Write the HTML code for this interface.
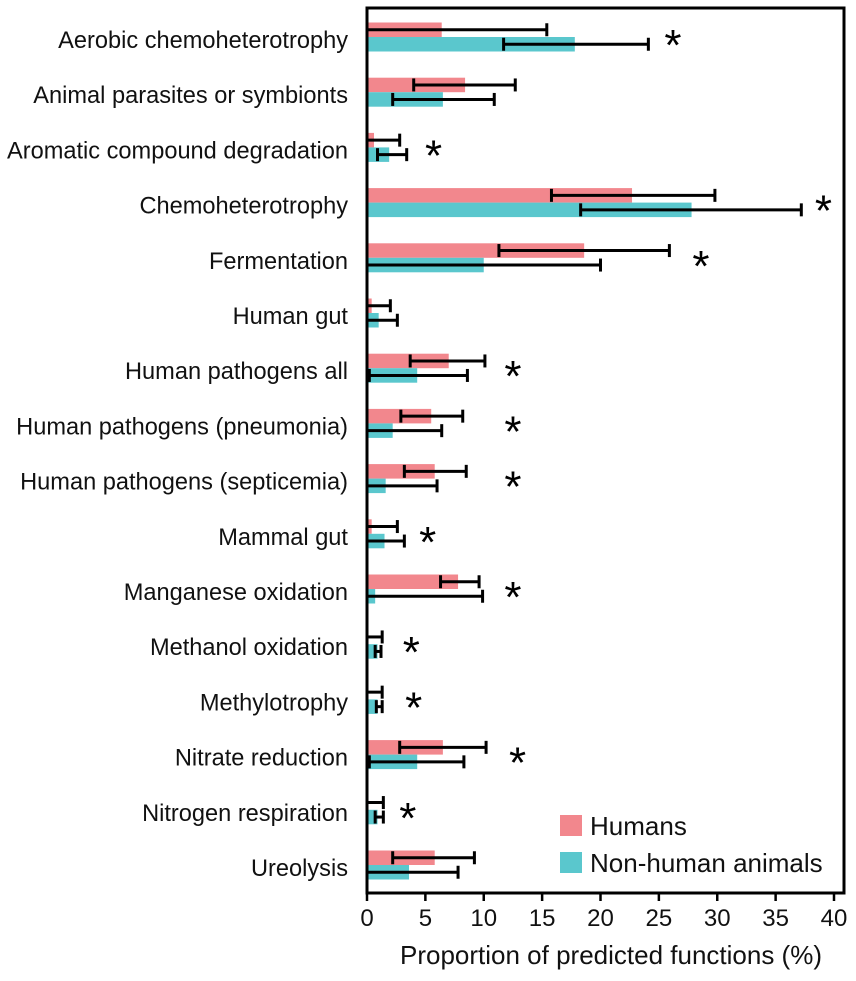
<!DOCTYPE html>
<html><head><meta charset="utf-8"><style>
html,body{margin:0;padding:0;background:#fff;}
svg{display:block;font-family:"Liberation Sans",Arial,sans-serif;}
</style></head><body>
<svg id="chart" width="856" height="981" viewBox="0 0 856 981" xmlns="http://www.w3.org/2000/svg"></svg>
<script>
const categories=["Aerobic chemoheterotrophy","Animal parasites or symbionts","Aromatic compound degradation","Chemoheterotrophy","Fermentation","Human gut","Human pathogens all","Human pathogens (pneumonia)","Human pathogens (septicemia)","Mammal gut","Manganese oxidation","Methanol oxidation","Methylotrophy","Nitrate reduction","Nitrogen respiration","Ureolysis"];
const humans=[6.4,8.4,0.6,22.7,18.6,0.4,7.0,5.5,5.8,0.4,7.8,0.1,0.1,6.5,0.1,5.8];
const humansLo=[0,4.0,0,15.8,11.3,0,3.7,2.9,3.2,0,6.3,0,0,2.8,0,2.2];
const humansHi=[15.4,12.7,2.8,29.8,25.9,2.0,10.1,8.2,8.5,2.6,9.6,1.3,1.3,10.2,1.4,9.2];
const animals=[17.8,6.5,1.9,27.8,10.0,1.0,4.3,2.2,1.6,1.5,0.7,0.9,0.9,4.3,0.9,3.6];
const animalsLo=[11.7,2.2,0.9,18.3,0,0,0.2,0,0,0,0,0.7,0.8,0.2,0.7,0];
const animalsHi=[24.1,10.9,3.4,37.2,20.0,2.6,8.6,6.4,6.0,3.2,9.9,1.2,1.3,8.3,1.4,7.8];
const starPos=[26.2,null,5.7,39.1,28.6,null,12.5,12.5,12.5,5.2,12.5,3.8,4.0,12.9,3.5,null];
const xTicks=[0,5,10,15,20,25,30,35,40];

const svg=document.getElementById('chart');
const NS="http://www.w3.org/2000/svg";
const X0=367,X1=834,XMAX=40;
const x=v=>X0+(X1-X0)*v/XMAX;
const rowY=i=>37+i*55.2;
function mk(tag,attrs,parent){const e=document.createElementNS(NS,tag);for(const k in attrs)e.setAttribute(k,attrs[k]);(parent||svg).appendChild(e);return e;}
const PINK="#F2878D",TEAL="#5AC7CD";
const BH=14.5;
categories.forEach((c,i)=>{
  const cy=rowY(i);
  const g=mk('g',{});
  
  
  const t=mk('text',{x:348,y:cy+11,'text-anchor':'end','font-size':23.6,fill:'#111'},g);
  t.textContent=c;
  
  
  const b1=mk('rect',{x:x(0),y:cy-BH,width:x(humans[i])-x(0),height:BH,fill:PINK},g);
  
  
  const b2=mk('rect',{x:x(0),y:cy,width:x(animals[i])-x(0),height:BH,fill:TEAL},g);
  
  
  [[humansLo[i],humansHi[i],cy-BH/2],[animalsLo[i],animalsHi[i],cy+BH/2]].forEach(([lo,hi,yy])=>{
    const e=mk('g',{stroke:'#000','stroke-width':3},g);
    
    
    mk('line',{x1:x(lo),y1:yy,x2:x(hi),y2:yy},e);
    mk('line',{x1:x(hi),y1:yy-6.5,x2:x(hi),y2:yy+6.5},e);
    if(lo>0.15)mk('line',{x1:x(lo),y1:yy-6.5,x2:x(lo),y2:yy+6.5},e);
  });
  if(starPos[i]!==null){
    const s=mk('text',{x:x(starPos[i]),y:cy+23,'text-anchor':'middle','font-size':44,fill:'#000'},g);
    s.textContent='*';
    
    
  }
});
const frame=mk('rect',{x:367,y:8,width:477,height:885,fill:'none',stroke:'#000','stroke-width':3});


xTicks.forEach(v=>{
  const tk=mk('line',{x1:x(v),y1:893,x2:x(v),y2:901,stroke:'#000','stroke-width':2.5});
  
  
  const tl=mk('text',{x:x(v),y:926,'text-anchor':'middle','font-size':24,fill:'#111'});
  tl.textContent=v;
  
  
});
const at=mk('text',{x:611,y:964,'text-anchor':'middle','font-size':26,fill:'#111'});
at.textContent='Proportion of predicted functions (%)';


const lg=mk('g',{});


[["Humans",PINK,815],["Non-human animals",TEAL,852]].forEach(([n,col,y])=>{
  const e=mk('g',{},lg);
  
  
  mk('rect',{x:560,y:y,width:22,height:21,fill:col},e);
  const t=mk('text',{x:590,y:y+20,'font-size':26,fill:'#111'},e);
  t.textContent=n;
});
</script>
</body></html>
